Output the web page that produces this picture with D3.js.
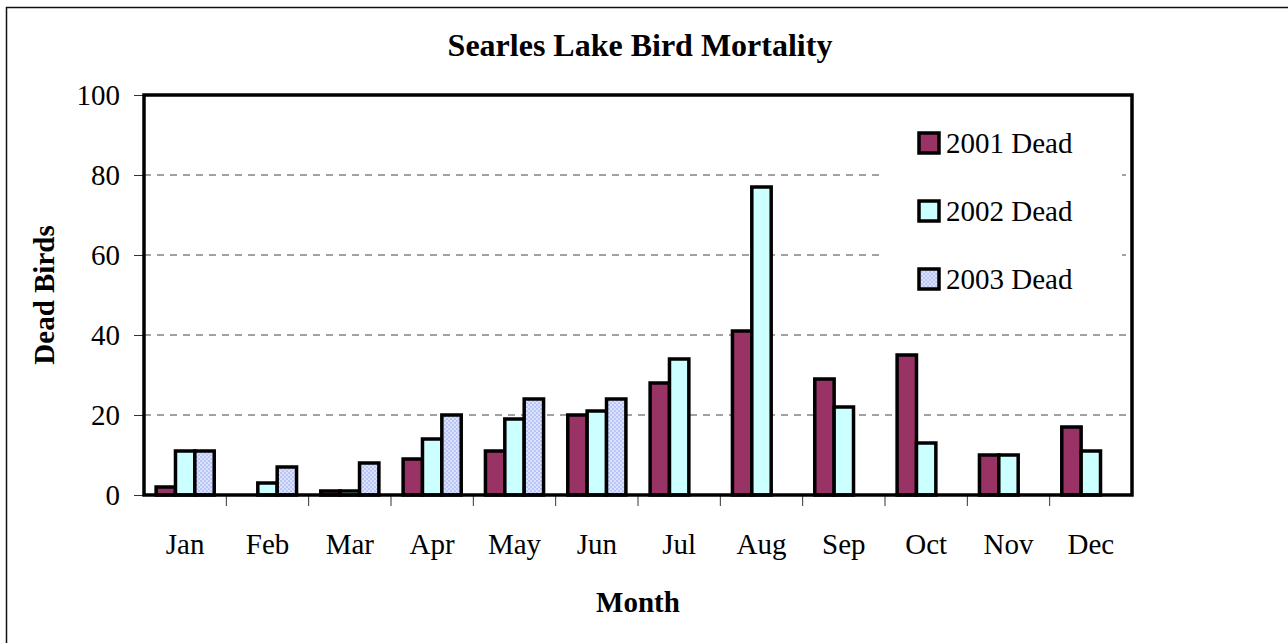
<!DOCTYPE html>
<html>
<head>
<meta charset="utf-8">
<script src="https://cdn.jsdelivr.net/npm/d3@7"></script>
<style>
  body { margin: 0; background: #fff; }
  text { font-family: "Liberation Serif", "Times New Roman", serif; }
</style>
</head>
<body>
<div id="chart_container"></div>
<script>
// Data
var months = ["Jan", "Feb", "Mar", "Apr", "May", "Jun", "Jul", "Aug", "Sep", "Oct", "Nov", "Dec"];
var series = ["2001 Dead", "2002 Dead", "2003 Dead"];
var dead2001 = [2, null, 1, 9, 11, 20, 28, 41, 29, 35, 10, 17];
var dead2002 = [11, 3, 1, 14, 19, 21, 34, 77, 22, 13, 10, 11];
var dead2003 = [11, 7, 8, 20, 24, 24, null, null, null, null, null, null];
var y_ticks = [0, 20, 40, 60, 80, 100];

var values = [dead2001, dead2002, dead2003];

// Chart dimensions
var width = 1288;
var height = 643;
var plot = {left: 144, top: 95, right: 1132, bottom: 495};

var svg = d3.select("#chart_container")
    .append("svg")
    .attr("width", width)
    .attr("height", height);

// fill pattern for 2003
var defs = svg.append("defs");
var pat = defs.append("pattern")
    .attr("id", "dots")
    .attr("width", 4)
    .attr("height", 4)
    .attr("patternUnits", "userSpaceOnUse");
pat.append("rect").attr("width", 4).attr("height", 4).attr("fill", "#dbe2ff");
pat.append("rect").attr("width", 2).attr("height", 2).attr("fill", "#b9c5f2");
pat.append("rect").attr("x", 2).attr("y", 2).attr("width", 2).attr("height", 2).attr("fill", "#b9c5f2");

var fills = ["#993366", "#ccffff", "url(#dots)"];

// Outer border
svg.append("rect")
    .attr("x", 6.5)
    .attr("y", 7.5)
    .attr("width", width)
    .attr("height", height)
    .attr("fill", "white")
    .attr("stroke", "#111")
    .attr("stroke-width", 1.5);

// Scales
var y_scale = d3.scaleLinear()
    .domain([0, 100])
    .range([plot.bottom, plot.top]);

var x_scale = d3.scaleBand()
    .domain(months)
    .range([plot.left, plot.right]);

var bw = x_scale.bandwidth();
var gap = bw / 4.25 * 1.25;
var x_sub = d3.scaleBand()
    .domain(series)
    .range([gap / 2, bw - gap / 2]);

// Gridlines
svg.append("g")
    .selectAll("line")
    .data(y_ticks.filter(function(d) { return d > 0 && d < 100; }))
    .enter()
    .append("line")
    .attr("x1", plot.left)
    .attr("x2", plot.right)
    .attr("y1", function(d) { return y_scale(d); })
    .attr("y2", function(d) { return y_scale(d); })
    .attr("stroke", "#444")
    .attr("stroke-width", 1)
    .attr("stroke-dasharray", "7,6");

// Legend background (hides gridlines)
var legend = svg.append("g");
legend.append("rect")
    .attr("x", 880)
    .attr("y", 105)
    .attr("width", 242)
    .attr("height", 205)
    .attr("fill", "white");

// Bars
var flat = [];
months.forEach(function(m, i) {
    series.forEach(function(s, j) {
        if (values[j][i] != null) flat.push({month: m, series: s, idx: j, value: values[j][i]});
    });
});

svg.append("g")
    .selectAll("rect")
    .data(flat)
    .enter()
    .append("rect")
    .attr("x", function(d) { return x_scale(d.month) + x_sub(d.series); })
    .attr("y", function(d) { return y_scale(d.value); })
    .attr("width", x_sub.bandwidth())
    .attr("height", function(d) { return y_scale(0) - y_scale(d.value); })
    .attr("fill", function(d) { return fills[d.idx]; })
    .attr("stroke", "black")
    .attr("stroke-width", 3.5);

// Axes
var y_axis = d3.axisLeft(y_scale)
    .tickValues(y_ticks)
    .tickSize(10)
    .tickPadding(14);

var x_axis = d3.axisBottom(x_scale)
    .tickSize(0)
    .tickPadding(38);

var gy = svg.append("g")
    .attr("transform", "translate(" + plot.left + ",0)")
    .call(y_axis);
gy.select(".domain").remove();
gy.selectAll("line").attr("stroke", "#333");
gy.selectAll("text")
    .style("font-size", "29px")
    .attr("fill", "black");

var gx = svg.append("g")
    .attr("transform", "translate(0," + plot.bottom + ")")
    .call(x_axis);
gx.select(".domain").remove();
gx.selectAll("text")
    .style("font-size", "29px")
    .attr("fill", "black");

// x ticks between months
svg.append("g")
    .selectAll("line")
    .data(months.slice(1))
    .enter()
    .append("line")
    .attr("x1", function(d) { return x_scale(d); })
    .attr("x2", function(d) { return x_scale(d); })
    .attr("y1", plot.bottom)
    .attr("y2", plot.bottom + 11)
    .attr("stroke", "#333")
    .attr("stroke-width", 1);

// Plot frame
svg.append("rect")
    .attr("x", plot.left)
    .attr("y", plot.top)
    .attr("width", plot.right - plot.left)
    .attr("height", plot.bottom - plot.top)
    .attr("fill", "none")
    .attr("stroke", "black")
    .attr("stroke-width", 3.5);

// Legend
var li = legend.selectAll(".item")
    .data(series)
    .enter()
    .append("g")
    .attr("transform", function(d, i) { return "translate(919," + (133 + i * 68) + ")"; });
li.append("rect")
    .attr("width", 20)
    .attr("height", 20)
    .attr("fill", function(d, i) { return fills[i]; })
    .attr("stroke", "black")
    .attr("stroke-width", 3.5);
li.append("text")
    .attr("x", 27)
    .attr("y", 20)
    .style("font-size", "29px")
    .text(function(d) { return d; });

// Title
svg.append("text")
    .attr("x", 640)
    .attr("y", 56)
    .style("text-anchor", "middle")
    .style("font-size", "32px")
    .style("font-weight", "bold")
    .text("Searles Lake Bird Mortality");

// Axis titles
svg.append("text")
    .attr("x", 638)
    .attr("y", 612)
    .style("text-anchor", "middle")
    .style("font-size", "29px")
    .style("font-weight", "bold")
    .text("Month");

svg.append("text")
    .attr("transform", "translate(54,295) rotate(-90)")
    .style("text-anchor", "middle")
    .style("font-size", "29px")
    .style("font-weight", "bold")
    .text("Dead Birds");
</script>
</body>
</html>
